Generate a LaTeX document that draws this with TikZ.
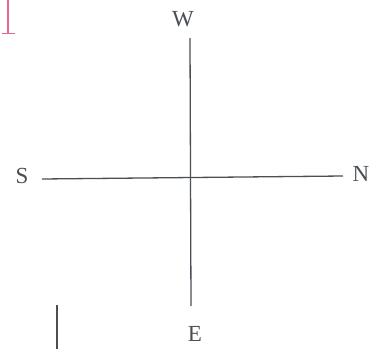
\documentclass[tikz,border=0pt]{standalone}
\usepackage{fontspec}
\setmainfont{Liberation Serif}
\usepackage{tikz}
\usetikzlibrary{positioning}
\definecolor{scanGrey}{HTML}{4a4f55}
\definecolor{scanPink}{HTML}{e8688c}

\begin{document}
\begin{tikzpicture}[x=1pt, y=-1pt,
    dirlabel/.style={inner sep=0pt, text=scanGrey, font=\fontsize{23}{27}\selectfont},
    axisline/.style={scanGrey, line width=1.3pt}]
        \useasboundingbox (0,0) rectangle (376,349);

        % compass letters
        \node[dirlabel] (W) at (183, 19) {W};
        \node[dirlabel] (S) at (22, 176) {S};
        \node[dirlabel] (N) at (361, 174) {N};
        \node[dirlabel] (E) at (195, 334) {E};

        \coordinate (top) at (190, 38);
        \coordinate (bottom) at (191, 306);
        \coordinate (left) at (42, 179);
        \coordinate (right) at (343, 176);

        \draw[axisline] (top) -- (bottom);
        \draw[axisline] (left) -- (right);

        % edge marks of the scan
        \draw[scanGrey, line width=1.8pt] (57, 305) -- (57, 349);
        \draw[scanPink, line width=2.2pt] (8, 0) -- (8, 33);
        \draw[scanPink, line width=1pt] (2, 33.5) -- (15, 33.5);
    \end{tikzpicture}
\end{document}
